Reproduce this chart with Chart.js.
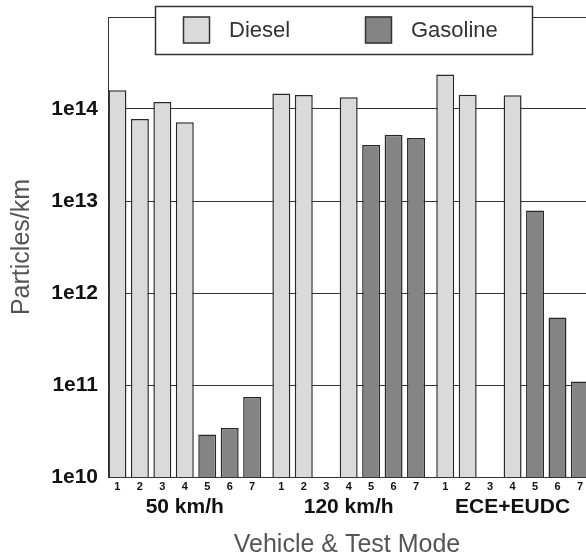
<!DOCTYPE html>
<html>
<head>
<meta charset="utf-8">
<script src="https://cdn.jsdelivr.net/npm/chart.js@4.4.1/dist/chart.umd.min.js"></script>
<style>
  html, body { margin: 0; padding: 0; background: #fff; overflow: hidden; }
  #wrap { width: 586px; height: 558px; }
</style>
</head>
<body>
<div id="wrap"><canvas id="chart" width="586" height="558"></canvas></div>
<script>
// Test modes (groups) and vehicle numbers within each group
const modes = ['50 km/h', '120 km/h', 'ECE+EUDC'];
const vehicles = ['1', '2', '3', '4', '5', '6', '7'];

// Particle emissions per km, one entry per vehicle slot (7 per mode); null = not measured
const dieselValues = [
  1.6e14, 7.8e13, 1.19e14, 7.2e13, null, null, null,
  1.47e14, 1.42e14, null, 1.34e14, null, null, null,
  2.37e14, 1.43e14, null, 1.41e14, null, null, null
];
const gasolineValues = [
  null, null, null, null, 2.9e10, 3.4e10, 7.4e10,
  null, null, null, null, 4.07e13, 5.26e13, 4.85e13,
  null, null, null, null, 7.9e12, 5.4e11, 1.09e11
];

// Decades shown on the log axis
const yTickExponents = [10, 11, 12, 13, 14, 15];

// Slot layout: one unit per vehicle, with a small extra gap between modes
const GROUP_GAP = 0.3;
const slotPos = (g, v) => g * (vehicles.length + GROUP_GAP) + v;
const positions = [];
modes.forEach((m, g) => vehicles.forEach((v, i) => positions.push(slotPos(g, i))));
const toPoints = vals => vals
  .map((y, k) => ({ x: positions[k], y }))
  .filter(p => p.y !== null);

const X_MIN = -0.42;
const X_MAX = 20.87;
const FONT = "'Liberation Sans', Arial, sans-serif";

// Framed legend drawn over the top edge of the plot
const boxLegend = {
  id: 'boxLegend',
  afterDraw(chart, args, o) {
    const { ctx } = chart;
    ctx.save();
    ctx.fillStyle = '#ffffff';
    ctx.fillRect(o.left, o.top, o.width, o.height);
    ctx.strokeStyle = '#333333';
    ctx.lineWidth = 1.5;
    ctx.strokeRect(o.left + 0.5, o.top + 0.5, o.width, o.height);
    const cy = o.top + o.height / 2;
    ctx.font = `${o.fontSize}px ${FONT}`;
    ctx.textBaseline = 'middle';
    ctx.textAlign = 'left';
    chart.data.datasets.forEach((ds, i) => {
      const x = o.left + o.inset + i * o.itemSpacing;
      const s = o.swatch;
      ctx.fillStyle = ds.backgroundColor;
      ctx.fillRect(x, cy - s / 2, s, s);
      ctx.lineWidth = 1.5;
      ctx.strokeStyle = '#333333';
      ctx.strokeRect(x + 0.5, cy - s / 2 + 0.5, s - 1, s - 1);
      ctx.fillStyle = '#333333';
      ctx.fillText(ds.label, x + s + o.textGap, cy + 1);
    });
    ctx.restore();
  }
};

Chart.defaults.font.family = FONT;

new Chart(document.getElementById('chart'), {
  type: 'bar',
  data: {
    datasets: [
      {
        label: 'Diesel',
        data: toPoints(dieselValues),
        backgroundColor: '#dadada',
        borderColor: '#282828',
        borderWidth: 1.5,
        grouped: false,
        barPercentage: 0.8,
        categoryPercentage: 1
      },
      {
        label: 'Gasoline',
        data: toPoints(gasolineValues),
        backgroundColor: '#848484',
        borderColor: '#282828',
        borderWidth: 1.5,
        grouped: false,
        barPercentage: 0.8,
        categoryPercentage: 1
      }
    ]
  },
  options: {
    responsive: false,
    animation: false,
    layout: { padding: { top: 17, left: 0, right: 0, bottom: 0 } },
    plugins: {
      legend: { display: false },
      tooltip: { enabled: false },
      boxLegend: {
        left: 155, top: 6, width: 377, height: 48,
        inset: 28, itemSpacing: 182, swatch: 27, textGap: 19, fontSize: 22
      }
    },
    scales: {
      x: {
        type: 'linear',
        position: 'bottom',
        min: X_MIN,
        max: X_MAX,
        offset: false,
        afterBuildTicks: s => { s.ticks = positions.map(v => ({ value: v })); },
        afterFit: s => { s.height = 18; s.paddingLeft = 0; s.paddingRight = 0; },
        ticks: {
          autoSkip: false,
          maxRotation: 0,
          padding: 3,
          color: '#111111',
          font: { size: 11, weight: 'bold' },
          callback: (v, i) => vehicles[i % vehicles.length]
        },
        grid: { display: false, drawTicks: false, offset: false },
        border: { display: true, color: '#333333', width: 1 }
      },
      x2: {
        type: 'linear',
        position: 'bottom',
        min: X_MIN,
        max: X_MAX,
        offset: false,
        afterBuildTicks: s => { s.ticks = modes.map((m, g) => ({ value: slotPos(g, 3) })); },
        afterFit: s => { s.height = 63; s.paddingLeft = 0; s.paddingRight = 0; },
        ticks: {
          autoSkip: false,
          maxRotation: 0,
          padding: 0,
          color: '#111111',
          font: { size: 21, weight: 'bold' },
          callback: (v, i) => modes[i]
        },
        grid: { display: false, drawTicks: false },
        border: { display: false },
        title: {
          display: true,
          text: 'Vehicle & Test Mode',
          color: '#555555',
          font: { size: 25, lineHeight: 1 },
          padding: { top: 0, bottom: 0 }
        }
      },
      y: {
        type: 'logarithmic',
        min: 1e10,
        max: 1e15,
        afterBuildTicks: s => { s.ticks = yTickExponents.map(e => ({ value: Math.pow(10, e) })); },
        afterFit: s => { s.width = 108; s.paddingTop = 0; s.paddingBottom = 0; },
        ticks: {
          padding: 10,
          color: '#111111',
          font: { size: 21, weight: 'bold' },
          callback: v => {
            const e = Math.round(Math.log10(v));
            return e < 15 ? '1e' + e : '';
          }
        },
        grid: { color: '#333333', lineWidth: 1, drawTicks: false },
        border: { display: true, color: '#333333', width: 1 },
        title: {
          display: true,
          text: 'Particles/km',
          color: '#555555',
          font: { size: 25, lineHeight: 1 },
          padding: { top: 10, bottom: 0 }
        }
      }
    }
  },
  plugins: [boxLegend]
});
</script>
</body>
</html>
